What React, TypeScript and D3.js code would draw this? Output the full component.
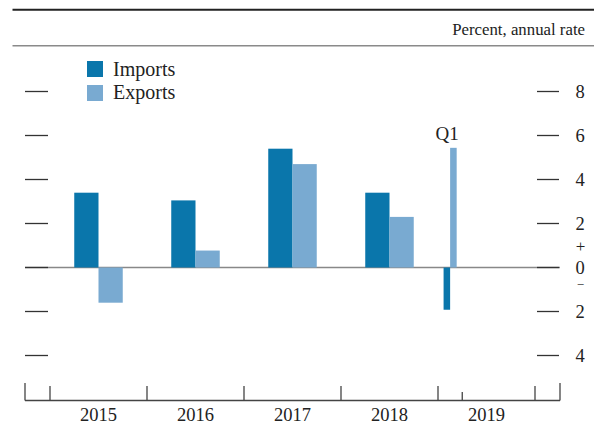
import React from 'react';
import * as d3 from 'd3';

// values (percent, annual rate)
const years = ['2015', '2016', '2017', '2018', '2019'];
const annualYears = ['2015', '2016', '2017', '2018'];
const imports = [3.4, 3.05, 5.4, 3.4];
const exports = [-1.6, 0.77, 4.7, 2.3];
const q1Imports = -1.92;
const q1Exports = 5.44;
const yTicks = [8, 6, 4, 2, 0, -2, -4];

const W = 594;
const H = 427;
const IMPORT_COLOR = '#0a76ab';
const EXPORT_COLOR = '#79aad1';
const FONT = '"Liberation Serif", "Times New Roman", serif';

export default function App() {
  const x = d3.scaleBand().domain(years).range([50, 535]).padding(0);
  const y = d3.scaleLinear().domain([-4, 8]).range([355.5, 91.5]);
  const bw = x.bandwidth();
  const qw = bw / 4;
  const axisY = 400.5;
  const left = 25;
  const right = 560;

  const barRect = (v: number) => ({ y: Math.min(y(v), y(0)), h: Math.abs(y(v) - y(0)) });

  // Q1 2019 position
  const q1Center = x('2019')! + qw / 2;
  const q1Bar = qw * 0.27;

  return (
    <svg width={W} height={H} style={{ position: 'absolute', left: 0, top: 0 }} fontFamily={FONT}>
      <rect width={W} height={H} fill="#fff" />
      {/* header rules */}
      <line x1={12.5} x2={W} y1={9.7} y2={9.7} stroke="#222" strokeWidth={2} />
      <line x1={12.5} x2={W} y1={45.8} y2={45.8} stroke="#8a8a8a" strokeWidth={1.5} />
      <text x={585} y={35} textAnchor="end" fontSize={16.8} fill="#222">Percent, annual rate</text>

      {/* legend */}
      <rect x={87} y={61} width={16} height={16} fill={IMPORT_COLOR} />
      <text x={113} y={76} fontSize={20} fill="#222">Imports</text>
      <rect x={87} y={85} width={16} height={16} fill={EXPORT_COLOR} />
      <text x={113} y={99} fontSize={20} fill="#222">Exports</text>

      {/* zero line */}
      <line x1={left} x2={right} y1={y(0)} y2={y(0)} stroke="#888" strokeWidth={1.5} />

      {/* value ticks, both sides */}
      {yTicks.map((t) => (
        <g key={t}>
          <line x1={left} x2={48} y1={y(t)} y2={y(t)} stroke="#333" strokeWidth={1.3} />
          <line x1={537} x2={559} y1={y(t)} y2={y(t)} stroke="#333" strokeWidth={1.3} />
          <text x={575.5} y={y(t) + 6.5} fontSize={18.5} fill="#222">{Math.abs(t)}</text>
        </g>
      ))}
      <text x={580.5} y={y(0) - 16} textAnchor="middle" fontSize={17} fill="#222">+</text>
      <text x={580.5} y={y(0) + 21} textAnchor="middle" fontSize={13} fill="#222">−</text>

      {/* annual bars */}
      {annualYears.map((yr, i) => {
        const c = x(yr)! + bw / 2;
        const a = barRect(imports[i]);
        const b = barRect(exports[i]);
        return (
          <g key={yr}>
            <rect x={c - qw} y={a.y} width={qw} height={a.h} fill={IMPORT_COLOR} />
            <rect x={c} y={b.y} width={qw} height={b.h} fill={EXPORT_COLOR} />
          </g>
        );
      })}

      {/* 2019 Q1 */}
      {(() => {
        const a = barRect(q1Imports);
        const b = barRect(q1Exports);
        return (
          <g>
            <rect x={q1Center - q1Bar} y={a.y} width={q1Bar} height={a.h} fill={IMPORT_COLOR} />
            <rect x={q1Center} y={b.y} width={q1Bar} height={b.h} fill={EXPORT_COLOR} />
            <text x={q1Center - 3} y={140} textAnchor="middle" fontSize={19} fill="#222">Q1</text>
          </g>
        );
      })()}

      {/* time axis */}
      <line x1={left} x2={right} y1={axisY} y2={axisY} stroke="#444" strokeWidth={1.3} />
      <line x1={left} x2={left} y1={383} y2={axisY} stroke="#444" strokeWidth={1.3} />
      <line x1={right} x2={right} y1={383} y2={axisY} stroke="#444" strokeWidth={1.3} />
      {years.concat(['2020']).map((yr, i) => {
        const xx = i < years.length ? x(yr)! : x('2019')! + bw;
        return <line key={yr} x1={xx} x2={xx} y1={386} y2={axisY} stroke="#444" strokeWidth={1.3} />;
      })}
      <line x1={x('2019')! + qw} x2={x('2019')! + qw} y1={392} y2={axisY} stroke="#444" strokeWidth={1.3} />
      {years.map((yr) => (
        <text key={yr} x={x(yr)! + bw / 2} y={421} textAnchor="middle" fontSize={18.5} fill="#222">{yr}</text>
      ))}
    </svg>
  );
}
